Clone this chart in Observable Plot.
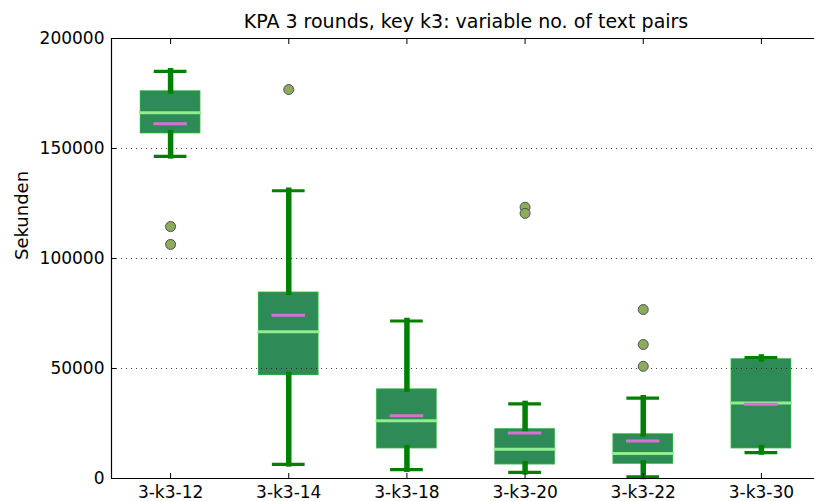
<!DOCTYPE html>
<html>
<head>
<meta charset="utf-8">
<script src="https://cdn.jsdelivr.net/npm/d3@7"></script>
<script src="https://cdn.jsdelivr.net/npm/@observablehq/plot@0.6"></script>
<style>
  html, body { margin: 0; padding: 0; background: #fff; }
  #chart svg { display: block; }
</style>
</head>
<body>
<div id="chart"></div>
<script>
const categories = ["3-k3-12", "3-k3-14", "3-k3-18", "3-k3-20", "3-k3-22", "3-k3-30"];
const whiskerLow  = [146400,   6400,   4000,   2800,    700,  11800];
const q1          = [157000,  47100,  13800,   6500,   6800,  13800];
const median      = [166300,  66700,  26300,  13300,  11400,  34300];
const mean        = [161300,  74200,  28500,  20700,  17100,  33700];
const q3          = [175900,  84400,  40400,  22300,  20000,  54100];
const whiskerHigh = [185100, 130800,  71600,  33900,  36500,  55000];
const outlierCategory = ["3-k3-12", "3-k3-12", "3-k3-14", "3-k3-20", "3-k3-20", "3-k3-22", "3-k3-22", "3-k3-22"];
const outlierValue    = [114500,    106400,    176800,    123300,    120500,     76800,     60900,     51000];
const yTicks = [0, 50000, 100000, 150000, 200000];
const title = "KPA 3 rounds, key k3: variable no. of text pairs";
const yLabel = "Sekunden";

const rows = categories.map((c, i) => ({
  pos: i + 1, lo: whiskerLow[i], q1: q1[i], med: median[i], mean: mean[i], q3: q3[i], hi: whiskerHigh[i]
}));
const outliers = outlierCategory.map((c, i) => ({pos: categories.indexOf(c) + 1, v: outlierValue[i]}));
const xTicks = categories.map((c, i) => i + 1);

const plot = Plot.plot({
  width: 814,
  height: 501,
  marginLeft: 111,
  marginRight: 0,
  marginTop: 38,
  marginBottom: 23,
  style: {fontFamily: "DejaVu Sans", background: "#fff", color: "#000"},
  x: {type: "linear", domain: [0.5, 6.5], range: [111, 820]},
  y: {domain: [0, 200000]},
  marks: [
    // boxes
    Plot.rect(rows, {x1: d => d.pos - 0.25, x2: d => d.pos + 0.25, y1: "q1", y2: "q3",
      fill: "#2e8b57", stroke: "#17a02e", strokeWidth: 1.5, strokeOpacity: 0.85}),
    // grid
    Plot.ruleY(yTicks, {stroke: "#000", strokeOpacity: 0.75, strokeWidth: 1, strokeDasharray: "1,4"}),
    // whiskers
    Plot.ruleX(rows, {x: "pos", y1: "q3", y2: "hi", stroke: "#008000", strokeWidth: 5.5, strokeLinecap: "square"}),
    Plot.ruleX(rows, {x: "pos", y1: "q1", y2: "lo", stroke: "#008000", strokeWidth: 5.5, strokeLinecap: "square"}),
    // caps
    Plot.ruleY(rows, {y: "hi", x1: d => d.pos - 0.125, x2: d => d.pos + 0.125, stroke: "#008000", strokeWidth: 3.2, strokeLinecap: "square"}),
    Plot.ruleY(rows, {y: "lo", x1: d => d.pos - 0.125, x2: d => d.pos + 0.125, stroke: "#008000", strokeWidth: 3.2, strokeLinecap: "square"}),
    // medians
    Plot.ruleY(rows, {y: "med", x1: d => d.pos - 0.25, x2: d => d.pos + 0.25, stroke: "#90ee90", strokeWidth: 3, strokeLinecap: "square"}),
    // means
    Plot.ruleY(rows, {y: "mean", x1: d => d.pos - 0.142, x2: d => d.pos + 0.142, stroke: "#da70d6", strokeWidth: 3}),
    // outliers
    Plot.dot(outliers, {x: "pos", y: "v", r: 5, fill: "#8cab5c", stroke: "#505050", strokeWidth: 1}),
    // spines
    Plot.ruleY([0, 200000], {stroke: "#000", strokeWidth: 1.2}),
    Plot.ruleX([0.5], {stroke: "#000", strokeWidth: 1.2}),
    // axes
    Plot.axisY({ticks: yTicks, tickFormat: d => String(d), tickSize: -5, tickPadding: 12, fontSize: 17, label: null}),
    Plot.axisX({ticks: xTicks, tickFormat: d => categories[d - 1], tickSize: -5, tickPadding: 12, fontSize: 17, label: null, anchor: "bottom"}),
    Plot.axisX({ticks: xTicks, tickFormat: () => "", tickSize: -5, label: null, anchor: "top"}),
    // title and y label
    Plot.text([title], {frameAnchor: "top", dx: 3, dy: -10.5, lineAnchor: "bottom", fontSize: 19, fill: "#000"}),
    Plot.text([yLabel], {frameAnchor: "left", rotate: -90, dx: -89.5, dy: 1.5, fontSize: 18, fill: "#000"})
  ]
});
document.getElementById("chart").appendChild(plot);
</script>
</body>
</html>
